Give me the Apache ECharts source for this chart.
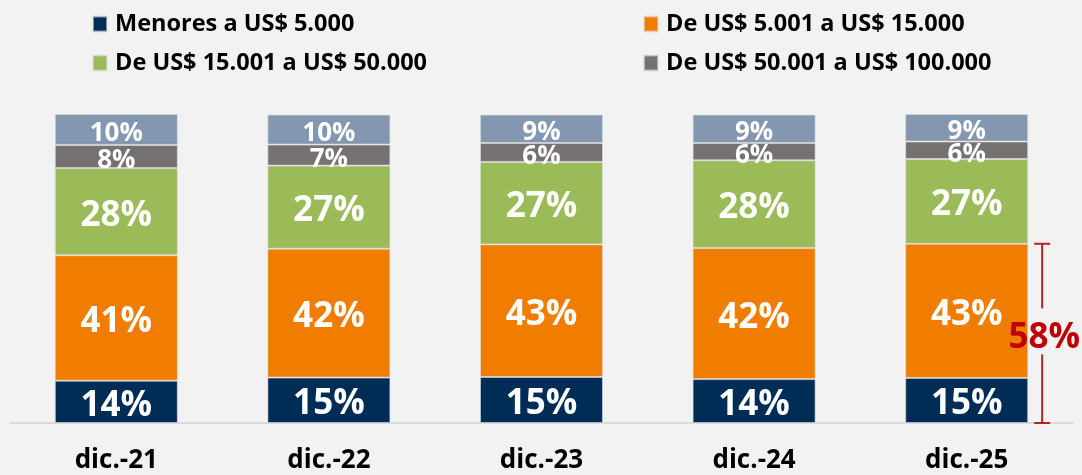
<!DOCTYPE html>
<html>
<head>
<meta charset="utf-8">
<script src="https://cdn.jsdelivr.net/npm/echarts@6/dist/echarts.min.js"></script>
<style>
  html, body { margin: 0; padding: 0; background: #f2f2f2; }
  #main { width: 1082px; height: 475px; }
</style>
</head>
<body>
<div id="main"></div>
<script>
// datos del grafico
var categorias = ["dic.-21", "dic.-22", "dic.-23", "dic.-24", "dic.-25"];
var menores5000 = [13.7, 14.7, 14.9, 14.2, 14.6];
var de5001a15000 = [40.6, 41.7, 42.9, 42.4, 43.4];
var de15001a50000 = [28.2, 26.9, 26.7, 28.4, 27.4];
var de50001a100000 = [7.5, 6.8, 6.1, 5.6, 5.7];
var mas100000 = [10.0, 9.7, 9.2, 9.2, 8.9];

var FONT = "Open Sans";
var ultimo = categorias.length - 1;
// suma de los dos primeros tramos en el ultimo periodo
var llave = [[ultimo, menores5000[ultimo] + de5001a15000[ultimo]]];

var myChart = echarts.init(document.getElementById("main"));

function serie(nombre, datos, color, size) {
  return {
    name: nombre,
    type: "bar",
    stack: "total",
    barWidth: 123,
    data: datos,
    itemStyle: { color: color, borderColor: "rgba(220,220,220,0.6)", borderWidth: 1 },
    label: {
      show: true,
      position: "inside",
      offset: [0, 4],
      color: "#fff",
      fontFamily: FONT,
      fontWeight: "bold",
      fontSize: size,
      formatter: function (p) { return Math.round(p.value) + "%"; }
    }
  };
}

function leyenda(nombre, left, top) {
  return {
    data: [nombre],
    left: left,
    top: top,
    padding: 0,
    itemWidth: 14,
    itemHeight: 15,
    itemGap: 0,
    icon: "rect",
    selectedMode: false,
    textStyle: {
      fontFamily: FONT,
      fontWeight: "bold",
      fontSize: 23.5,
      color: "#000",
      lineHeight: 20,
      padding: [0, 0, 0, 3]
    }
  };
}

myChart.setOption({
  backgroundColor: "#f2f2f2",
  animation: false,
  legend: [
    leyenda("Menores a US$ 5.000", 92, 12),
    leyenda("De US$ 15.001 a US$ 50.000", 92, 51),
    leyenda("De US$ 5.001 a US$ 15.000", 643, 12),
    leyenda("De US$ 50.001 a US$ 100.000", 643, 51)
  ],
  grid: { left: 10, right: 9, top: 114, bottom: 52 },
  xAxis: {
    type: "category",
    data: categorias,
    axisTick: { show: false },
    axisLine: { lineStyle: { color: "#d4d4d4", width: 1.5 } },
    axisLabel: {
      color: "#000",
      fontFamily: FONT,
      fontWeight: "bold",
      fontSize: 26,
      margin: 25
    }
  },
  yAxis: {
    type: "value",
    min: 0,
    max: 100,
    show: false,
    splitLine: { show: false }
  },
  series: [
    serie("Menores a US$ 5.000", menores5000, "#002d56", 35),
    serie("De US$ 5.001 a US$ 15.000", de5001a15000, "#f07d00", 35),
    serie("De US$ 15.001 a US$ 50.000", de15001a50000, "#9bbb59", 35),
    serie("De US$ 50.001 a US$ 100.000", de50001a100000, "#767171", 26),
    serie("Más de US$ 100.000", mas100000, "#8497b0", 26),
    {
      type: "custom",
      silent: true,
      data: llave,
      z: 5,
      renderItem: function (params, api) {
        var banda = api.size([1, 0])[0];
        var p0 = api.coord([api.value(0), 0]);
        var p1 = api.coord([api.value(0), api.value(1)]);
        var x = p0[0] + banda * 0.355;
        var yMid = (p0[1] + p1[1]) / 2 + 2;
        var rojo = "#b0231f";
        var st = { stroke: rojo, lineWidth: 2 };
        return {
          type: "group",
          children: [
            { type: "line", shape: { x1: x - 8, y1: p1[1], x2: x + 8, y2: p1[1] }, style: st },
            { type: "line", shape: { x1: x - 8, y1: p0[1], x2: x + 8, y2: p0[1] }, style: st },
            { type: "line", shape: { x1: x, y1: p1[1], x2: x, y2: yMid - 27 }, style: st },
            { type: "line", shape: { x1: x, y1: yMid + 19, x2: x, y2: p0[1] }, style: st },
            {
              type: "text",
              x: x + 2,
              y: yMid + 3,
              style: {
                text: Math.round(api.value(1)) + "%",
                fill: "#c00000",
                font: "bold 35px '" + FONT + "'",
                align: "center",
                verticalAlign: "middle"
              }
            }
          ]
        };
      }
    }
  ]
});
</script>
</body>
</html>
